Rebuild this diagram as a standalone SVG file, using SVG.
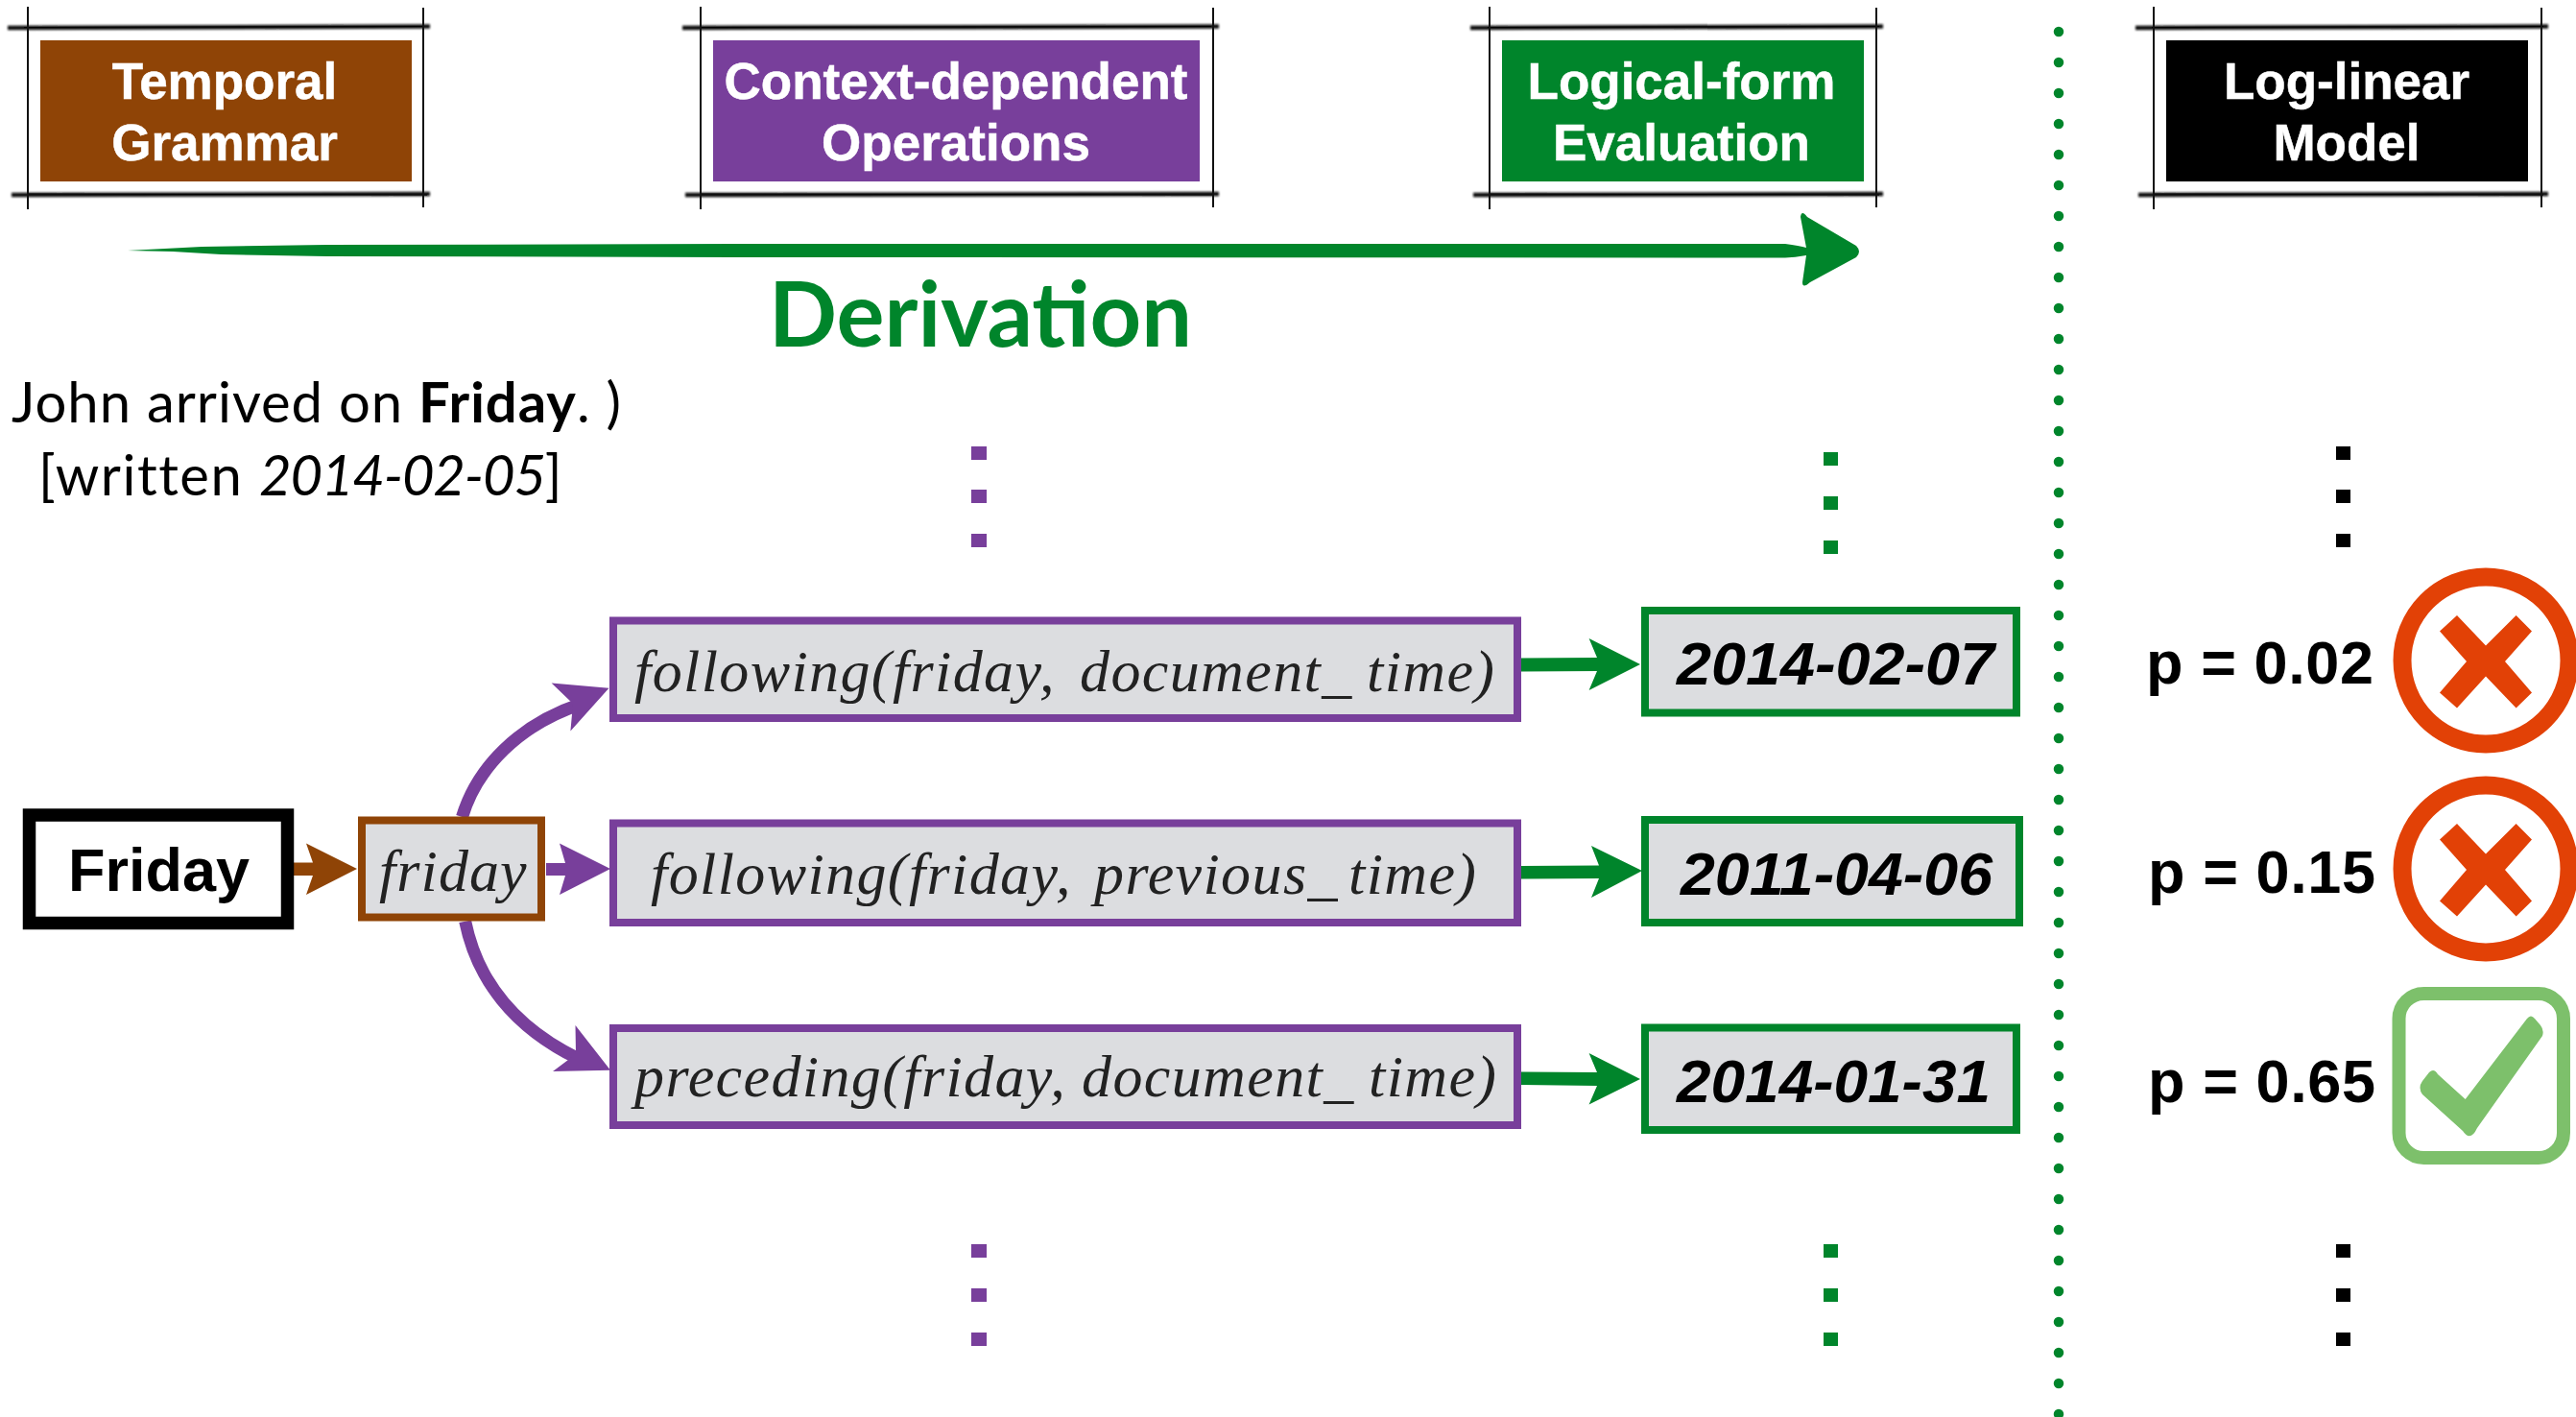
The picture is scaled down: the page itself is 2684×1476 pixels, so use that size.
<svg xmlns="http://www.w3.org/2000/svg" width="2684" height="1476" viewBox="0 0 2684 1476">
<defs>
<filter id="sk" x="-5%" y="-200%" width="110%" height="500%"><feGaussianBlur stdDeviation="1"/></filter>
</defs>
<style>
text{font-family:"Liberation Sans",Arial,sans-serif}
.hd{font-weight:700;font-size:53px;fill:#fff;text-anchor:middle;stroke:#fff;stroke-width:.5}
.gs{font-family:Lato,"Liberation Sans",sans-serif;font-size:58px;fill:#000}
.m{font-family:"Liberation Serif","Times New Roman",serif;font-style:italic;font-size:62px;fill:#222;letter-spacing:1.4px}
.dt{font-weight:700;font-style:italic;font-size:63px;fill:#000}
.p{font-weight:700;font-size:63px;fill:#000}
.fl{fill:#dcdde0;stroke-width:8}
.pu{stroke:#783f9b}.gr{stroke:#00852b}
.fv{stroke:#111;stroke-width:2;fill:none}
.fh{stroke:#111;stroke-width:4.500;fill:none;filter:url(#sk)}
.fi{stroke:#000;stroke-width:1;fill:none}
.red{fill:none;stroke:#e24106;stroke-width:19}
.rx{fill:#e24106}
.cv{fill:none;stroke:#783f9b;stroke-width:13}
</style>

<g id="header-temporal">
<path class="fh" d="M8 29 L448 27.500M12 203 L448 202"/><path class="fi" d="M25 28.500 L440 27.500M30 202 L445 203"/><path class="fv" d="M29 7 L29 218M441 8 L441 216"/>
<rect x="42" y="42" width="387" height="147" fill="#8f4406"/>
<text class="hd" x="234" y="103">Temporal</text><text class="hd" x="234" y="167">Grammar</text>
</g>
<g id="header-context">
<path class="fh" d="M711 29 L1270 27.500M714 203 L1270 202"/><path class="fi" d="M730 28.500 L1262 27.500M730 202 L1265 203"/><path class="fv" d="M730 7 L730 218M1264 8 L1264 216"/>
<rect x="743" y="42" width="507" height="147" fill="#783f9b"/>
<text class="hd" x="996" y="103">Context-dependent</text><text class="hd" x="996" y="167">Operations</text>
</g>
<g id="header-logical">
<path class="fh" d="M1532 29 L1962 27.500M1535 203 L1962 202"/><path class="fi" d="M1550 28.500 L1958 27.500M1552 202 L1958 203"/><path class="fv" d="M1552 7 L1552 218M1955 8 L1955 216"/>
<rect x="1565" y="42" width="377" height="147" fill="#00852b"/>
<text class="hd" x="1752" y="103">Logical-form</text><text class="hd" x="1752" y="167">Evaluation</text>
</g>
<g id="header-loglinear">
<path class="fh" d="M2225 29 L2655 27.500M2228 203 L2655 202"/><path class="fi" d="M2242 28.500 L2650 27.500M2244 202 L2650 203"/><path class="fv" d="M2244 7 L2244 218M2648 8 L2648 216"/>
<rect x="2257" y="42" width="377" height="147" fill="#000"/>
<text class="hd" x="2445" y="103">Log-linear</text><text class="hd" x="2445" y="167">Model</text>
</g>

<g id="connectors">
<path d="M133 261 L210 257 L340 255 L800 254 L1860 254 Q1875 256 1882 258 L1876 226 Q1877 218 1883 226 L1934 256 Q1940 262 1934 268 L1886 294 Q1878 301 1878 294 L1882 266 Q1870 268 1860 268.500 L800 268 L340 267 L230 265 L180 262 Z" fill="#00852b"/>
<path id="c-dotline" d="M2145 33 L2145 1476" fill="none" stroke="#00852b" stroke-width="10.500" stroke-linecap="round" stroke-dasharray="0 32"/>
<path d="M306 898.500 L326 898.500 L319 878.600 L372 905 L319 932 L326 912 L306 912 Z" fill="#8f4406"/>
<path d="M569 899 L589 899 L583 878.600 L636 905 L583 932 L589 912 L569 912 Z" fill="#783f9b"/>
<path class="cv" d="M481.500 851 C497 800 540 755 606 733"/>
<path d="M634.500 716.700 L574.600 711.400 L597 733 L594.400 761.500 Z" fill="#783f9b"/>
<path class="cv" d="M484.700 959.700 C497 1020 535 1070 603 1103"/>
<path d="M636 1114.700 L599.500 1068 L600 1098 L576 1116 Z" fill="#783f9b"/>
<path d="M1585 685.500 L1664 685 L1655.600 665 L1709 692 L1655.600 719 L1664 699 L1585 699.500 Z" fill="#00852b"/>
<path d="M1585 902 L1666 901.500 L1658 881 L1711 907 L1658 935 L1666 915 L1585 915.500 Z" fill="#00852b"/>
<path d="M1585 1116.500 L1664 1117 L1655.600 1097 L1709 1124 L1655.600 1150.600 L1664 1131 L1585 1130 Z" fill="#00852b"/>
</g>

<g id="title-derivation"><text x="801" y="361" style="font-family:Lato,'Liberation Sans',sans-serif;font-weight:700;font-size:94px;fill:#00852b" textLength="441" lengthAdjust="spacingAndGlyphs">Derivation</text></g>
<g id="sentence">
<text class="gs" x="12" y="440" textLength="635" lengthAdjust="spacing">John arrived on <tspan font-weight="700">Friday</tspan>. )</text>
<text class="gs" x="40" y="516"><tspan letter-spacing="1.5">[written</tspan> <tspan x="270" font-style="italic" letter-spacing="-1.2">2014-02-05</tspan>]</text>
</g>

<g id="dots-top">
<path d="M1012 465h16v14h-16zM1012 510h16v14h-16zM1012 556h16v14h-16z" fill="#783f9b"/>
<path d="M1900 471h15v14h-15zM1900 517h15v14h-15zM1900 563h15v14h-15z" fill="#00852b"/>
<path d="M2434 465h15v14h-15zM2434 510h15v14h-15zM2434 556h15v14h-15z" fill="#000"/>
</g>
<g id="dots-bottom">
<path d="M1012 1296h16v14h-16zM1012 1342h16v14h-16zM1012 1388h16v14h-16z" fill="#783f9b"/>
<path d="M1900 1296h15v14h-15zM1900 1342h15v14h-15zM1900 1388h15v14h-15z" fill="#00852b"/>
<path d="M2434 1296h15v14h-15zM2434 1342h15v14h-15zM2434 1388h15v14h-15z" fill="#000"/>
</g>

<g id="n-friday-word"><rect x="30.500" y="849" width="269" height="112.500" fill="#fff" stroke="#000" stroke-width="13.500"/><text x="71" y="928" style="font-weight:700;font-size:63px;fill:#000">Friday</text></g>
<g id="n-friday"><rect class="fl" x="377" y="854.500" width="187" height="101" stroke="#8f4406"/><text class="m" x="395" y="928" textLength="155" lengthAdjust="spacing">friday</text></g>

<g id="n-op1"><rect class="fl pu" x="639" y="646.500" width="942" height="101.500"/><text class="m" x="661" y="720">following(friday,<tspan x="1125">document_</tspan><tspan x="1424">time)</tspan></text></g>
<g id="n-op2"><rect class="fl pu" x="639" y="857.500" width="942" height="103.500"/><text class="m" x="678" y="931">following(friday,<tspan x="1140">previous_</tspan><tspan x="1405">time)</tspan></text></g>
<g id="n-op3"><rect class="fl pu" x="639" y="1071" width="942" height="101"/><text class="m" x="661" y="1142">preceding(friday,<tspan x="1127">document_</tspan><tspan x="1426">time)</tspan></text></g>

<g id="n-date1"><rect class="fl gr" x="1714" y="636" width="387" height="106.500"/><text class="dt" x="1747" y="712.500" textLength="331" lengthAdjust="spacingAndGlyphs">2014-02-07</text></g>
<g id="n-date2"><rect class="fl gr" x="1714" y="854" width="390" height="107"/><text class="dt" x="1751" y="932" textLength="325" lengthAdjust="spacingAndGlyphs">2011-04-06</text></g>
<g id="n-date3"><rect class="fl gr" x="1714" y="1070.500" width="387" height="106.500"/><text class="dt" x="1747" y="1148" textLength="327" lengthAdjust="spacingAndGlyphs">2014-01-31</text></g>

<g id="n-score1"><text class="p" x="2236" y="711.500" textLength="237" lengthAdjust="spacing">p = 0.02</text>
<circle class="red" cx="2590" cy="688" r="87"/><path class="rx" d="M2560 641 L2590 672.600 L2621.600 641 L2638 657.500 L2610 689 L2638 721.600 L2621.600 737.500 L2590 704.500 L2560 737.500 L2542 721.600 L2570 689 L2542 657.500 Z"/></g>
<g id="n-score2"><text class="p" x="2238" y="930" textLength="237" lengthAdjust="spacing">p = 0.15</text>
<circle class="red" cx="2590" cy="905" r="87"/><path class="rx" d="M2560 858 L2590 889.600 L2621.600 858 L2638 874.500 L2610 906 L2638 938.600 L2621.600 954.500 L2590 921.500 L2560 954.500 L2542 938.600 L2570 906 L2542 874.500 Z"/></g>
<g id="n-score3"><text class="p" x="2238" y="1148" textLength="237" lengthAdjust="spacing">p = 0.65</text>
<rect x="2499.500" y="1035" width="171.500" height="171" rx="26" fill="none" stroke="#7dc06b" stroke-width="14"/>
<path d="M2633 1061 Q2637 1056 2641 1061 L2647 1068 Q2651 1073 2649 1079 L2581 1175 Q2574 1190 2566 1178 L2524 1140 Q2519 1133 2524 1126 L2531 1117 Q2536 1112 2540 1119 L2568.700 1145 Z" fill="#7dc06b"/></g>
</svg>
